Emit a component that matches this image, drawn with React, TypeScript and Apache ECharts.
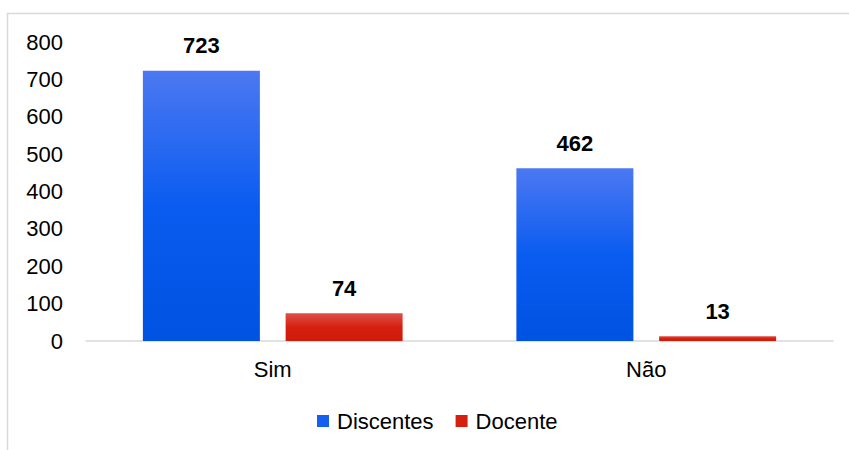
import React, { useEffect, useRef } from "react";
import * as echarts from "echarts";

const categories = ["Sim", "Não"];
const discentes = [723, 462];
const docente = [74, 13];
const yTicks = { min: 0, max: 800, interval: 100 };

const FONT = "'Liberation Sans', Arial, sans-serif";

export default function App() {
  const ref = useRef<HTMLDivElement>(null);
  useEffect(() => {
    if (!ref.current) return;
    const chart = echarts.init(ref.current, null, { renderer: "svg" });
    const blue = new echarts.graphic.LinearGradient(0, 0, 0, 1, [
      { offset: 0, color: "#4c78f2" },
      { offset: 0.5, color: "#0a5cf0" },
      { offset: 1, color: "#0052e2" },
    ]);
    const red = new echarts.graphic.LinearGradient(0, 0, 0, 1, [
      { offset: 0, color: "#de5048" },
      { offset: 0.5, color: "#d5200f" },
      { offset: 1, color: "#cf1a08" },
    ]);
    const label = {
      show: true,
      position: "top" as const,
      distance: 14,
      fontFamily: FONT,
      fontSize: 22,
      fontWeight: "bold" as const,
      color: "#000",
    };
    chart.setOption({
      animation: false,
      textStyle: { fontFamily: FONT },
      graphic: [
        {
          type: "rect",
          shape: { x: 7.5, y: 13.5, width: 1000, height: 600 },
          style: { fill: "none", stroke: "#d9d9d9", lineWidth: 1.5 },
          silent: true,
        },
      ],
      grid: { left: 86, right: 16, top: 42, bottom: 109 },
      legend: {
        left: 312,
        top: 405,
        itemWidth: 12,
        itemHeight: 12,
        itemGap: 22,
        icon: "rect",
        textStyle: { fontFamily: FONT, fontSize: 22, color: "#000", padding: [0, 0, 0, 3] },
        data: [
          { name: "Discentes", itemStyle: { color: "#1460f0" } },
          { name: "Docente", itemStyle: { color: "#d5200f" } },
        ],
      },
      xAxis: {
        type: "category",
        data: categories,
        axisLine: { lineStyle: { color: "#d9d9d9", width: 1.5 } },
        axisTick: { show: false },
        axisLabel: { fontFamily: FONT, fontSize: 22, color: "#000", margin: 17 },
      },
      yAxis: {
        type: "value",
        min: yTicks.min,
        max: yTicks.max,
        interval: yTicks.interval,
        axisLine: { show: false },
        axisTick: { show: false },
        splitLine: { show: false },
        axisLabel: { fontFamily: FONT, fontSize: 22, color: "#000", margin: 23 },
      },
      series: [
        {
          name: "Discentes",
          type: "bar",
          data: discentes,
          barWidth: 117,
          barGap: "22%",
          itemStyle: { color: blue },
          label,
        },
        {
          name: "Docente",
          type: "bar",
          data: docente,
          barWidth: 117,
          itemStyle: { color: red },
          label,
        },
      ],
    });
    return () => chart.dispose();
  }, []);
  return (
    <div
      ref={ref}
      style={{ position: "fixed", left: 0, top: 0, width: 849, height: 450, background: "#fff" }}
    />
  );
}
